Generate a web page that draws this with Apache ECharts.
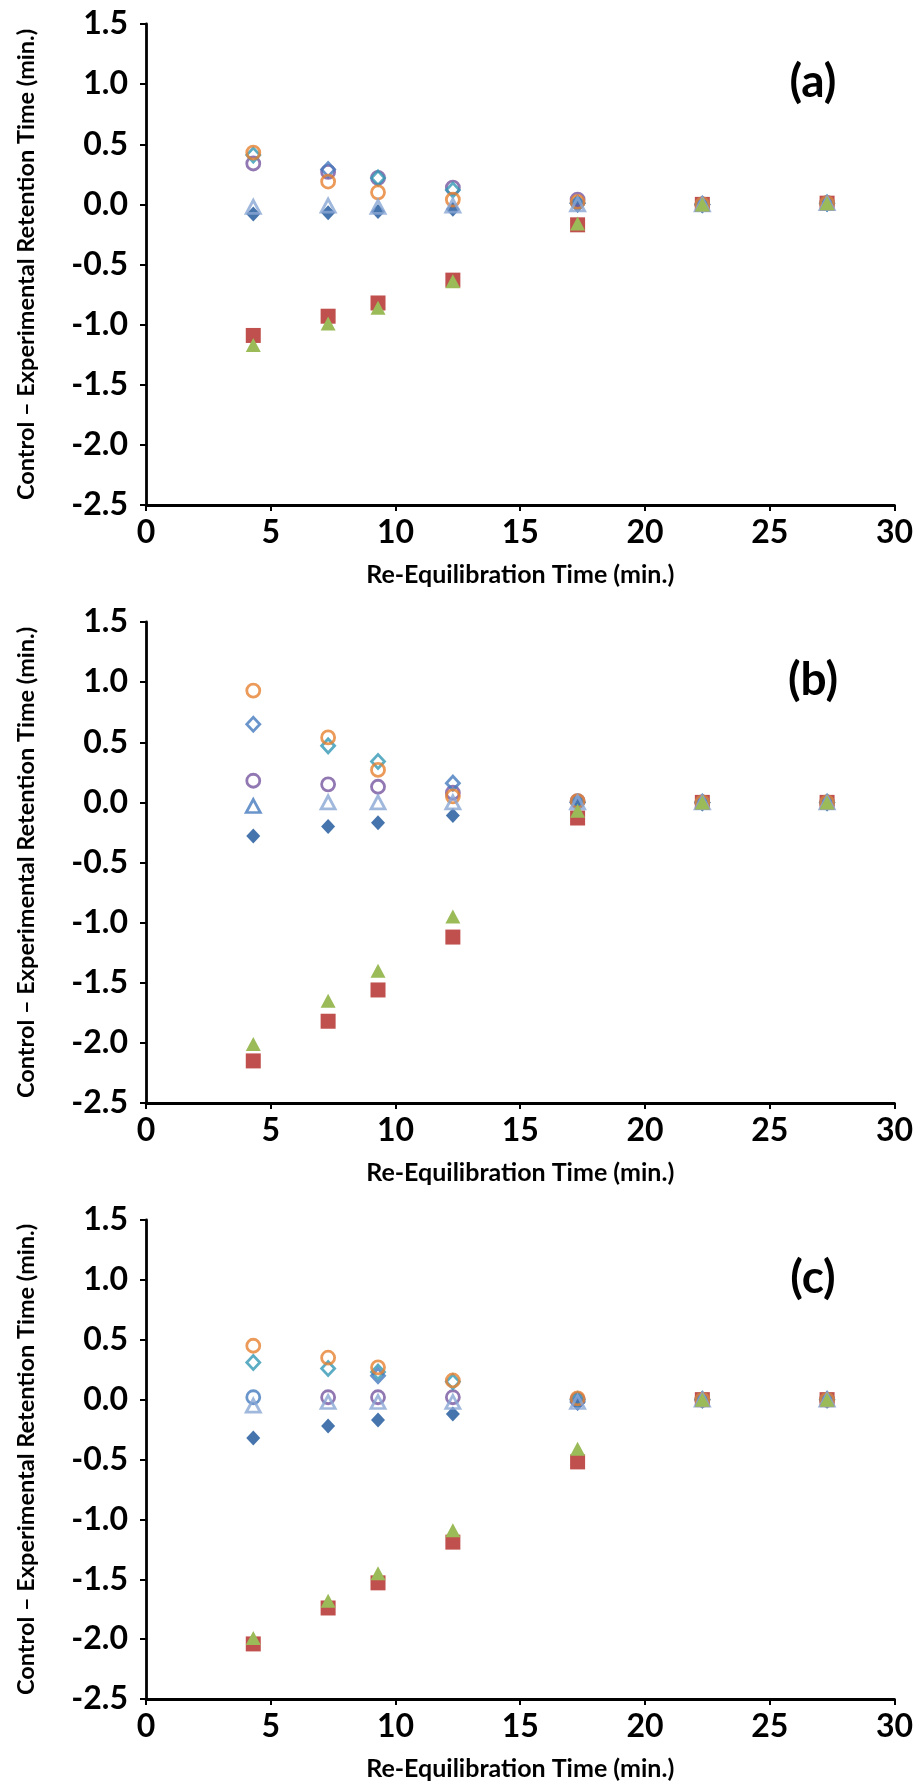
<!DOCTYPE html>
<html>
<head>
<meta charset="utf-8">
<title>Re-Equilibration Time</title>
<script src="https://cdn.jsdelivr.net/npm/echarts@6/dist/echarts.min.js"></script>
<style>
  html, body { margin: 0; padding: 0; background: #fff; }
  #chart { width: 916px; height: 1782px; }
</style>
</head>
<body>
<div id="chart"></div>
<script>
// Re-equilibration times (min.) shared by every panel
const TIMES = [4.3, 7.3, 9.3, 12.3, 17.3, 22.3, 27.3];
const PANEL_LABELS = ['(a)', '(b)', '(c)'];
const X_TITLE = 'Re-Equilibration Time (min.)';
const Y_TITLE = 'Control \u2013 Experimental Retention Time (min.)';

// Panel (a): control - experimental retention time (min.)
const filledDiamondA = [-0.08, -0.07, -0.06, -0.04, -0.01, 0.00, 0.01];
const redSquareA     = [-1.09, -0.93, -0.82, -0.63, -0.17, 0.00, 0.01];
const purpleCircleA  = [0.34, 0.27, 0.22, 0.14, 0.04, 0.00, 0.01];
const blueCircleA    = [null, null, null, null, null, null, null];
const tealDiamondA   = [0.41, null, 0.22, 0.12, 0.01, 0.00, 0.01];
const blueDiamondA   = [null, 0.29, null, null, 0.01, 0.00, 0.01];
const orangeCircleA  = [0.43, 0.19, 0.10, 0.04, 0.02, 0.00, 0.01];
const lightTriangleA = [-0.02, -0.01, -0.02, -0.01, 0.00, 0.00, 0.01];
const blueTriangleA  = [null, null, null, null, null, null, null];
const greenTriangleA = [-1.17, -0.99, -0.86, -0.64, -0.16, 0.00, 0.01];

// Panel (b)
const filledDiamondB = [-0.28, -0.20, -0.17, -0.11, -0.01, 0.00, 0.00];
const redSquareB     = [-2.15, -1.82, -1.56, -1.12, -0.13, 0.00, 0.00];
const purpleCircleB  = [0.18, 0.15, 0.13, 0.08, 0.01, 0.00, 0.00];
const blueCircleB    = [null, null, null, null, null, null, null];
const tealDiamondB   = [null, 0.47, 0.34, null, 0.00, 0.00, 0.00];
const blueDiamondB   = [0.65, null, null, 0.16, 0.00, 0.00, 0.00];
const orangeCircleB  = [0.93, 0.54, 0.27, 0.05, 0.01, 0.00, 0.00];
const lightTriangleB = [null, 0.00, 0.00, 0.00, 0.00, 0.00, 0.00];
const blueTriangleB  = [-0.03, null, null, null, null, null, null];
const greenTriangleB = [-2.01, -1.65, -1.40, -0.95, -0.07, 0.00, 0.00];

// Panel (c)
const filledDiamondC = [-0.32, -0.22, -0.17, -0.12, -0.03, 0.00, 0.00];
const redSquareC     = [-2.04, -1.74, -1.53, -1.19, -0.52, 0.00, 0.00];
const purpleCircleC  = [null, 0.02, 0.02, 0.02, 0.00, 0.00, 0.00];
const blueCircleC    = [0.02, null, null, null, null, null, null];
const tealDiamondC   = [0.31, 0.26, 0.23, 0.15, 0.00, 0.00, 0.00];
const blueDiamondC   = [null, null, 0.20, null, -0.02, 0.00, 0.00];
const orangeCircleC  = [0.45, 0.35, 0.27, 0.16, 0.01, 0.00, 0.00];
const lightTriangleC = [-0.05, -0.02, -0.02, -0.02, -0.02, 0.00, 0.00];
const blueTriangleC  = [null, null, null, null, null, null, null];
const greenTriangleC = [-1.99, -1.68, -1.45, -1.09, -0.41, 0.00, 0.00];

const PANELS = [
  [filledDiamondA, redSquareA, purpleCircleA, blueCircleA, tealDiamondA, blueDiamondA, orangeCircleA, lightTriangleA, blueTriangleA, greenTriangleA],
  [filledDiamondB, redSquareB, purpleCircleB, blueCircleB, tealDiamondB, blueDiamondB, orangeCircleB, lightTriangleB, blueTriangleB, greenTriangleB],
  [filledDiamondC, redSquareC, purpleCircleC, blueCircleC, tealDiamondC, blueDiamondC, orangeCircleC, lightTriangleC, blueTriangleC, greenTriangleC]
];

// Marker styles, in drawing order (first is drawn at the bottom)
const MARKERS = [
  { symbol: 'diamond',  size: [14, 15], fill: '#4674AC', stroke: null },
  { symbol: 'rect',     size: 15,       fill: '#C0504D', stroke: null },
  { symbol: 'circle',   size: 13,       fill: null,      stroke: '#7756A0' },
  { symbol: 'circle',   size: 13,       fill: null,      stroke: '#457BBE' },
  { symbol: 'diamond',  size: [13, 14], fill: null,      stroke: '#3399B5' },
  { symbol: 'diamond',  size: [13, 14], fill: null,      stroke: '#457BBE' },
  { symbol: 'circle',   size: 13,       fill: null,      stroke: '#E6812F' },
  { symbol: 'triangle', size: [14, 13], fill: null,      stroke: '#89A6D4' },
  { symbol: 'triangle', size: [14, 13], fill: null,      stroke: '#457BBE' },
  { symbol: 'triangle', size: [15, 14], fill: '#9BBB59', stroke: null }
];

const FONT = 'Lato, "Open Sans", "DejaVu Sans", sans-serif';
const GRID_LEFT = 146, GRID_WIDTH = 749, GRID_TOP = 24, GRID_HEIGHT = 481, GRID_STEP = 598;

const grids = [], xAxes = [], yAxes = [], series = [], graphics = [];

PANELS.forEach((panel, p) => {
  grids.push({ left: GRID_LEFT, width: GRID_WIDTH, top: GRID_TOP + p * GRID_STEP, height: GRID_HEIGHT });
  xAxes.push({
    gridIndex: p, type: 'value', min: 0, max: 30, interval: 5,
    axisLine: { show: true, onZero: false, lineStyle: { color: '#000', width: 2.8 } },
    axisTick: { show: true, length: 6, lineStyle: { color: '#000', width: 2 } },
    splitLine: { show: false },
    axisLabel: { color: '#000', fontFamily: FONT, fontWeight: 'bold', fontSize: 32, margin: 12 },
    name: X_TITLE, nameLocation: 'middle', nameGap: 57,
    nameTextStyle: { color: '#000', fontFamily: FONT, fontWeight: 'bold', fontSize: 25 }
  });
  yAxes.push({
    gridIndex: p, type: 'value', min: -2.5, max: 1.5, interval: 0.5,
    axisLine: { show: true, onZero: false, lineStyle: { color: '#000', width: 2.8 } },
    axisTick: { show: true, length: 6, lineStyle: { color: '#000', width: 2 } },
    splitLine: { show: false },
    axisLabel: { color: '#000', fontFamily: FONT, fontWeight: 'bold', fontSize: 32, margin: 18,
                 formatter: v => v.toFixed(1) },
    name: Y_TITLE, nameLocation: 'middle', nameGap: 108, nameRotate: 90,
    nameTextStyle: { color: '#000', fontFamily: FONT, fontWeight: 'bold', fontSize: 23.5 }
  });
  panel.forEach((values, s) => {
    const m = MARKERS[s];
    series.push({
      type: 'scatter', xAxisIndex: p, yAxisIndex: p,
      symbol: m.symbol, symbolSize: m.size,
      // open markers keep a transparent fill so overlapping points stay visible
      itemStyle: m.fill
        ? { color: m.fill, opacity: 1 }
        : { color: 'rgba(255,255,255,0)', borderColor: m.stroke, borderWidth: 2.8 },
      emphasis: { disabled: true },
      silent: true,
      data: TIMES.map((t, i) => [t, values[i]]).filter(d => d[1] !== null)
    });
  });
  graphics.push({
    type: 'text', x: 813, y: 82 + p * GRID_STEP,
    style: { text: PANEL_LABELS[p], fill: '#000', font: 'bold 46px ' + FONT,
             textAlign: 'center', textVerticalAlign: 'middle' }
  });
});

const chart = echarts.init(document.getElementById('chart'), null, { renderer: 'canvas' });
chart.setOption({
  animation: false,
  backgroundColor: '#fff',
  grid: grids, xAxis: xAxes, yAxis: yAxes,
  series: series,
  graphic: graphics
});
</script>
</body>
</html>
